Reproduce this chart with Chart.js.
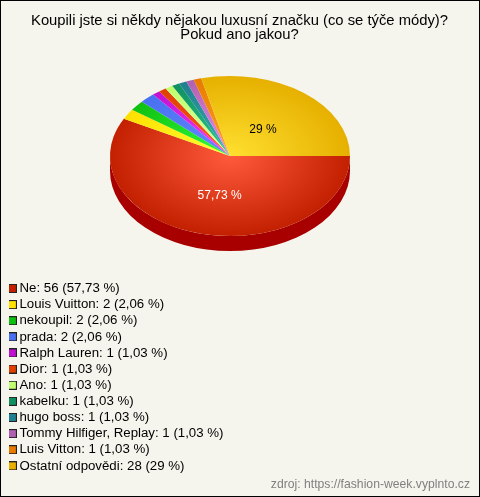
<!DOCTYPE html>
<html>
<head>
<meta charset="utf-8">
<style>
html, body { margin: 0; padding: 0; background: #f5f5ed; }
canvas { display: block; outline: 1px solid #000; outline-offset: -1px; }
</style>
<script src="https://cdn.jsdelivr.net/npm/chart.js@4"></script>
</head>
<body>
<canvas id="pieChart" width="480" height="497"></canvas>
<script>
const titleLines = ['Koupili jste si někdy nějakou luxusní značku (co se týče módy)?', 'Pokud ano jakou?'];
const sourceText = 'zdroj: https://fashion-week.vyplnto.cz';
const categories = ['Ne', 'Louis Vuitton', 'nekoupil', 'prada', 'Ralph Lauren', 'Dior', 'Ano', 'kabelku', 'hugo boss', 'Tommy Hilfiger, Replay', 'Luis Vitton', 'Ostatní odpovědi'];
const values = [56, 2, 2, 2, 1, 1, 1, 1, 1, 1, 1, 28];
const percents = ['57,73', '2,06', '2,06', '2,06', '1,03', '1,03', '1,03', '1,03', '1,03', '1,03', '1,03', '29'];
const swatchColors = ['#c22000', '#ffe000', '#10c010', '#4870f0', '#c010d0', '#e04000', '#c0ff70', '#109060', '#207f90', '#b060b0', '#e87a00', '#e8b000'];
const centerColors = ['#ff5a3c', '#ffff30', '#30ff40', '#6488ff', '#ff40ff', '#ff5a28', '#e0ffa0', '#28c890', '#38b0b0', '#f090f0', '#ffa428', '#ffe030'];
const edgeColors = ['#c22000', '#ffe000', '#10c010', '#4870f0', '#c010d0', '#e04000', '#c0ff70', '#109060', '#207f90', '#b060b0', '#e87a00', '#e6b000'];
const sideColor = '#a80000';

// pie is drawn flat by the library, this squeezes it into an ellipse
const pieCenterX = 230, pieCenterY = 156, squash = 2 / 3, depth = 15;

function makeSwatch(color) {
    const c = document.createElement('canvas');
    c.width = 9;
    c.height = 9;
    const g = c.getContext('2d');
    g.fillStyle = '#222';
    g.fillRect(0, 0, 9, 9);
    g.fillStyle = color;
    g.fillRect(1, 1, 7, 7);
    return c;
}

const tiltPlugin = {
    id: 'tilt',
    beforeDatasetsDraw(chart) {
        const first = chart.getDatasetMeta(0).data[0];
        const ctx = chart.ctx;
        ctx.save();
        ctx.translate(pieCenterX, pieCenterY);
        ctx.scale(1, squash);
        ctx.translate(-first.x, -first.y);
        // side wall, only the front half can be seen
        const dy = depth / squash;
        ctx.fillStyle = sideColor;
        ctx.beginPath();
        ctx.arc(first.x, first.y, first.outerRadius, 0, Math.PI);
        ctx.arc(first.x, first.y + dy, first.outerRadius, Math.PI, 0, true);
        ctx.closePath();
        ctx.fill();
    },
    afterDatasetsDraw(chart) {
        const ctx = chart.ctx;
        const arcs = chart.getDatasetMeta(0).data;
        const first = arcs[0];
        ctx.restore();
        ctx.font = '12px "Liberation Sans", Arial, sans-serif';
        ctx.textAlign = 'center';
        ctx.textBaseline = 'middle';
        [[0, 4, 1, '#ffffff'], [11, -4, 5, '#000000']].forEach(([i, nudgeX, nudgeY, color]) => {
            const pos = arcs[i].tooltipPosition();
            ctx.fillStyle = color;
            ctx.fillText(percents[i] + ' %', pieCenterX + pos.x - first.x + nudgeX, pieCenterY + (pos.y - first.y) * squash + nudgeY);
        });
    }
};

new Chart(document.getElementById('pieChart'), {
    type: 'pie',
    data: {
        labels: categories,
        datasets: [{
            data: values,
            borderWidth: 0,
            backgroundColor(context) {
                const chart = context.chart;
                if (!chart.chartArea) return edgeColors[context.dataIndex];
                const x = (chart.chartArea.left + chart.chartArea.right) / 2;
                const y = (chart.chartArea.top + chart.chartArea.bottom) / 2;
                const grad = chart.ctx.createRadialGradient(x, y, 0, x, y, 120);
                grad.addColorStop(0, centerColors[context.dataIndex]);
                grad.addColorStop(1, edgeColors[context.dataIndex]);
                return grad;
            }
        }]
    },
    options: {
        responsive: false,
        animation: false,
        rotation: 90,
        radius: 120,
        layout: { padding: { left: 9, right: 10, top: 0, bottom: 0 } },
        plugins: {
            tooltip: { enabled: false },
            title: {
                display: true,
                text: titleLines,
                color: '#000000',
                font: { family: '"Liberation Sans", Arial, sans-serif', size: 14.8, weight: 'normal', lineHeight: 0.95 },
                padding: { top: 14, bottom: 0 }
            },
            subtitle: {
                display: true,
                position: 'bottom',
                align: 'end',
                text: sourceText,
                color: '#808080',
                font: { family: '"Liberation Sans", Arial, sans-serif', size: 12.2, weight: 'normal' },
                padding: { top: 2, bottom: 5 }
            },
            legend: {
                position: 'left',
                align: 'end',
                fullSize: false,
                labels: {
                    color: '#000000',
                    font: { family: '"Liberation Sans", Arial, sans-serif', size: 13.25 },
                    usePointStyle: true,
                    pointStyleWidth: 1,
                    padding: 2.875,
                    generateLabels() {
                        return categories.map((name, i) => ({
                            text: name + ': ' + values[i] + ' (' + percents[i] + ' %)',
                            pointStyle: makeSwatch(swatchColors[i]),
                            fillStyle: swatchColors[i],
                            strokeStyle: swatchColors[i],
                            lineWidth: 0,
                            index: i
                        }));
                    }
                }
            }
        }
    },
    plugins: [tiltPlugin]
});
</script>
</body>
</html>
